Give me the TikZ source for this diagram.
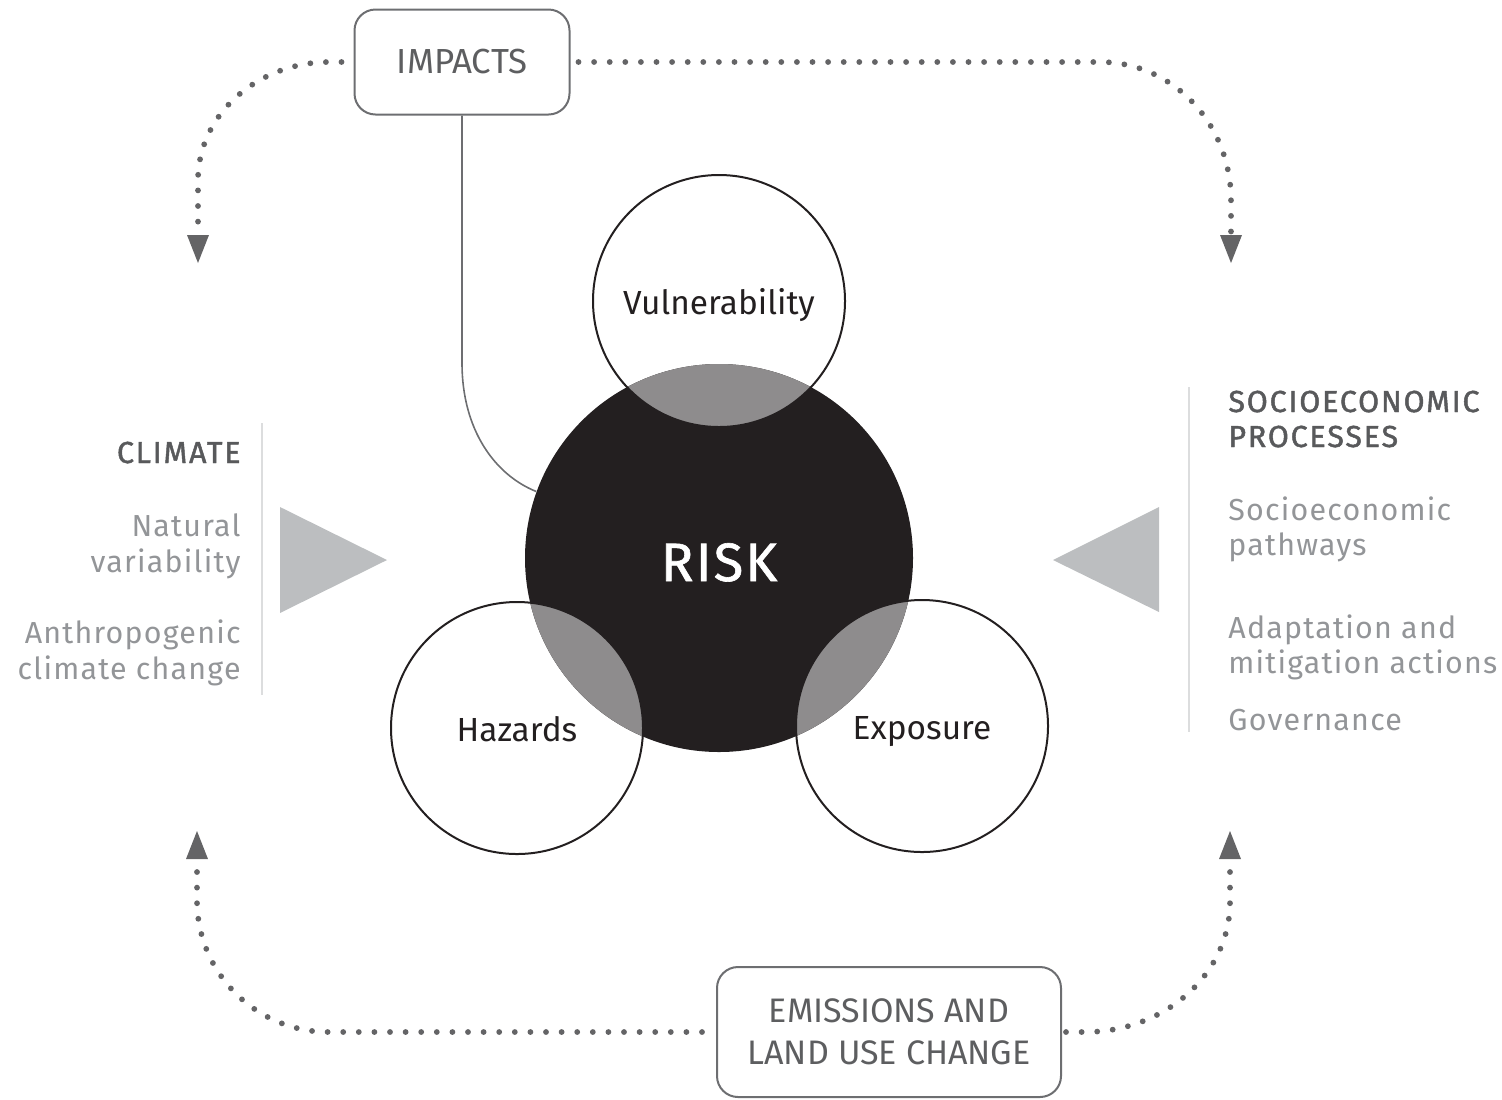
\documentclass[tikz,border=0pt]{standalone}
\usepackage{fontspec}
\setmainfont{Fira Sans}
\newfontfamily\headfont[FakeBold=1.5,LetterSpace=6]{Fira Sans}
\newfontfamily\lightfont[LetterSpace=4]{Fira Sans}
\newfontfamily\riskfont[FakeBold=1.2,LetterSpace=4]{Fira Sans}
\usetikzlibrary{arrows.meta}
\definecolor{riskblack}{HTML}{231F20}
\definecolor{overlap}{HTML}{8E8C8D}
\definecolor{dotgray}{HTML}{646466}
\definecolor{boxgray}{HTML}{6D6E71}
\definecolor{boxtext}{HTML}{5D5E60}
\definecolor{headgray}{HTML}{58595B}
\definecolor{lighttext}{HTML}{939598}
\definecolor{trigray}{HTML}{BCBEC0}
\definecolor{rulegray}{HTML}{DCDDDE}
\begin{document}
\begin{tikzpicture}[x=0.5pt,y=-0.5pt,
  smallcirc/.style={circle, draw=riskblack, line width=1pt, minimum size=126pt, inner sep=0pt,
    text=riskblack, text height=13.5pt, text depth=0pt, font=\fontsize{16.7}{20}\selectfont},
  riskcirc/.style={circle, fill=riskblack, minimum size=194pt, inner sep=0pt,
    text=white, text height=23pt, text depth=0pt, font=\riskfont\fontsize{27}{30}\selectfont},
  roundbox/.style={draw=boxgray, line width=1pt, rounded corners=10.5pt, inner sep=0pt,
    text=boxtext, align=center},
  dotline/.style={draw=dotgray, line width=2.9pt, line cap=round, dash pattern=on 0pt off 7.8pt,
    -{Triangle[length=14pt,width=11pt,line width=0pt]}},
  connline/.style={draw=boxgray, line width=0.8pt},
  sidelight/.style={text=lighttext, inner sep=0pt, font=\lightfont\fontsize{15.2}{18}\selectfont},
  sidehead/.style={text=headgray, inner sep=0pt, font=\headfont\fontsize{15.2}{18}\selectfont},
  sidetri/.style={fill=trigray},
  siderule/.style={draw=rulegray, line width=1pt}]
\useasboundingbox (0,0) rectangle (1502,1099);

% central risk circle
\node[riskcirc] (risk) at (719,558) {RISK};
% overlaps
\begin{scope}
  \clip (risk.center) circle[radius=194];
  \fill[overlap] (719,301) circle[radius=126];
  \fill[overlap] (517,728) circle[radius=126];
  \fill[overlap] (922,726) circle[radius=126];
\end{scope}
\node[smallcirc] (vuln) at (719,301) {Vulnerability};
\node[smallcirc] (haz) at (517,728) {Hazards};
\node[smallcirc] (expo) at (922,726) {Exposure};

% boxes
\node[roundbox, minimum width=107.5pt, minimum height=52.5pt,
  font=\fontsize{17.4}{21}\selectfont] (impacts) at (462,62) {IMPACTS};
\node[roundbox, minimum width=172pt, minimum height=65pt,
  font=\fontsize{17}{21}\selectfont] (emis) at (889,1032) {EMISSIONS AND\\LAND USE CHANGE};

% impacts connector
\draw[connline] (impacts.south) -- (462,363) .. controls (462,430) and (495,475) .. (risk.160);

% dotted feedback arrows
\coordinate (tlarrow) at (198,263);
\coordinate (trarrow) at (1231,263);
\coordinate (blarrow) at (197,831);
\coordinate (brarrow) at (1230,831);
\draw[dotline, shorten <=6pt] (impacts.west) -- (330,62) .. controls (257,62) and (198,115) .. (198,180) -- (tlarrow);
\draw[dotline, shorten <=4pt] (impacts.east) -- (1100,62) .. controls (1173,62) and (1231,124) .. (1231,200) -- (trarrow);
\draw[dotline, shorten <=7pt] (emis.west) -- (329,1032) .. controls (256,1032) and (197,973) .. (197,900) -- (blarrow);
\draw[dotline, shorten <=2pt] (emis.east) -- (1085,1032) .. controls (1165,1032) and (1230,974) .. (1230,902) -- (brarrow);

% left side: climate
\draw[siderule] (262,423) -- (262,695);
\fill[sidetri] (280,507) -- (280,613) -- (387,560) -- cycle;
\node[sidehead, anchor=base east] (climate) at (241,463) {CLIMATE};
\node[sidelight, anchor=base east] (nat1) at (241,536) {Natural};
\node[sidelight, anchor=base east] (nat2) at (241,572) {variability};
\node[sidelight, anchor=base east] (anth1) at (241,643) {Anthropogenic};
\node[sidelight, anchor=base east] (anth2) at (241,679) {climate change};

% right side: socioeconomic
\draw[siderule] (1189,387) -- (1189,732);
\fill[sidetri] (1159,507) -- (1159,612) -- (1053,560) -- cycle;
\node[sidehead, anchor=base west] (soc1) at (1228,412) {SOCIOECONOMIC};
\node[sidehead, anchor=base west] (soc2) at (1228,447) {PROCESSES};
\node[sidelight, anchor=base west] (path1) at (1228,520) {Socioeconomic};
\node[sidelight, anchor=base west] (path2) at (1228,555) {pathways};
\node[sidelight, anchor=base west] (adap1) at (1228,638) {Adaptation and};
\node[sidelight, anchor=base west] (adap2) at (1228,673) {mitigation actions};
\node[sidelight, anchor=base west] (gov) at (1228,730) {Governance};
\end{tikzpicture}
\end{document}
